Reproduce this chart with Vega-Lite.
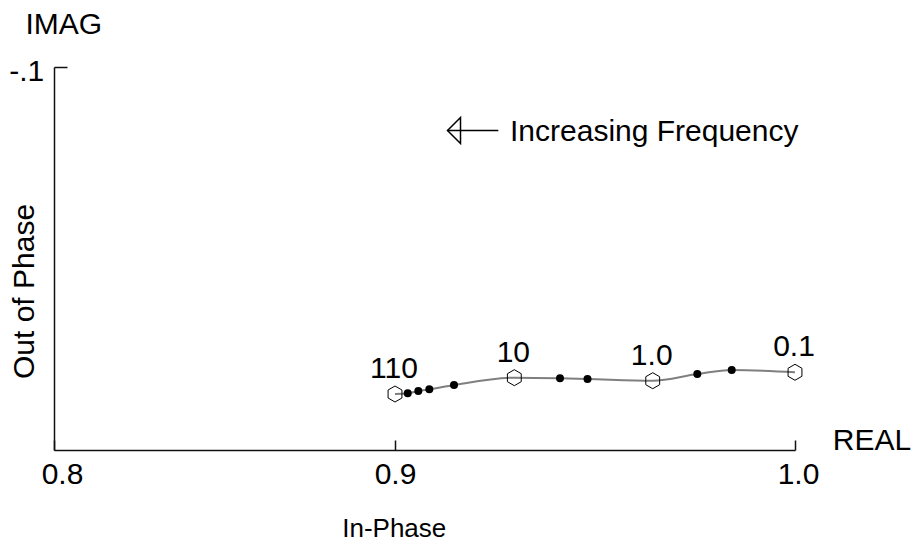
{
  "$schema": "https://vega.github.io/schema/vega-lite/v6.json",
  "autosize": {"type": "none"},
  "padding": {"left": 54, "top": 67, "right": 120, "bottom": 96},
  "width": 741,
  "height": 383,
  "config": {
    "view": {"stroke": null},
    "font": "Liberation Sans",
    "text": {"font": "Liberation Sans", "color": "#000"}
  },
  "datasets": {
    "response": [
      {"re": 0.9, "im": -0.01462, "kind": "hex", "freq": "110"},
      {"re": 0.90318, "im": -0.0148, "kind": "dot", "freq": ""},
      {"re": 0.90583, "im": -0.0154, "kind": "dot", "freq": ""},
      {"re": 0.90858, "im": -0.01585, "kind": "dot", "freq": ""},
      {"re": 0.91475, "im": -0.01697, "kind": "dot", "freq": ""},
      {"re": 0.92983, "im": -0.01888, "kind": "hex", "freq": "10"},
      {"re": 0.94125, "im": -0.01872, "kind": "dot", "freq": ""},
      {"re": 0.94813, "im": -0.01854, "kind": "dot", "freq": ""},
      {"re": 0.96443, "im": -0.01809, "kind": "hex", "freq": "1.0"},
      {"re": 0.97558, "im": -0.01984, "kind": "dot", "freq": ""},
      {"re": 0.98418, "im": -0.02089, "kind": "dot", "freq": ""},
      {"re": 1.0, "im": -0.02029, "kind": "hex", "freq": "0.1"}
    ],
    "arrow": [
      {"re": 0.91308, "re2": 0.92583, "re_head": 0.91475, "im": -0.08342}
    ],
    "caption": [
      {"re": 0.92875, "im": -0.08068, "text": "Increasing Frequency"}
    ],
    "axisNames": [
      {"re": 1.01925, "im": 0.0, "text": "REAL"},
      {"re": 0.80287, "im": -0.10854, "text": "IMAG"}
    ]
  },
  "layer": [
    {
      "data": {"name": "response"},
      "mark": {"type": "line", "interpolate": "monotone", "color": "#7f7f7f", "strokeWidth": 2},
      "encoding": {
        "x": {
          "field": "re",
          "type": "quantitative",
          "scale": {"domain": [0.8, 0.9, 1.0], "range": [0, 341, 741], "zero": false, "nice": false},
          "axis": {
            "values": [0.8, 0.9, 1.0],
            "format": ".1f",
            "grid": false,
            "domainColor": "#111",
            "domainWidth": 1.5,
            "tickColor": "#111",
            "tickWidth": 1.5,
            "tickSize": -10,
            "labelFlush": false,
            "labelOverlap": false,
            "labelFont": "Liberation Sans",
            "labelFontSize": 30,
            "labelColor": "#000",
            "labelBaseline": "alphabetic",
            "labelPadding": 43.3,
            "labelOffset": {"condition": [{"test": "datum.value < 0.85", "value": 8}, {"test": "datum.value > 0.95", "value": 3}], "value": 0},
            "title": "In-Phase",
            "titleFont": "Liberation Sans",
            "titleFontSize": 26,
            "titleFontWeight": "normal",
            "titleColor": "#000",
            "titleX": 287.7,
            "titleY": 86.7,
            "titleAlign": "left",
            "titleBaseline": "alphabetic"
          }
        },
        "y": {
          "field": "im",
          "type": "quantitative",
          "scale": {"domain": [0, -0.1], "zero": false, "nice": false},
          "axis": {
            "values": [-0.1],
            "labelExpr": "'-.1'",
            "grid": false,
            "domainColor": "#111",
            "domainWidth": 1.5,
            "tickColor": "#111",
            "tickWidth": 1.5,
            "tickSize": -13,
            "labelFlush": false,
            "labelFont": "Liberation Sans",
            "labelFontSize": 30,
            "labelColor": "#000",
            "labelBaseline": "alphabetic",
            "labelPadding": 23.2,
            "labelOffset": 13,
            "title": "Out of Phase",
            "titleFont": "Liberation Sans",
            "titleFontSize": 30,
            "titleFontWeight": "normal",
            "titleColor": "#000",
            "titleAngle": 270,
            "titleX": -20.7,
            "titleY": 224,
            "titleAlign": "center",
            "titleBaseline": "alphabetic"
          }
        }
      }
    },
    {
      "data": {"name": "response"},
      "transform": [{"filter": "datum.kind === 'dot'"}],
      "mark": {"type": "point", "shape": "circle", "filled": true, "color": "#000", "size": 64, "opacity": 1},
      "encoding": {
        "x": {"field": "re", "type": "quantitative"},
        "y": {"field": "im", "type": "quantitative"}
      }
    },
    {
      "data": {"name": "response"},
      "transform": [{"filter": "datum.kind === 'hex'"}],
      "mark": {
        "type": "point",
        "shape": "M0,-1L0.866,-0.5L0.866,0.5L0,1L-0.866,0.5L-0.866,-0.5Z",
        "filled": false,
        "stroke": "#000",
        "strokeWidth": 1,
        "size": 256,
        "opacity": 1
      },
      "encoding": {
        "x": {"field": "re", "type": "quantitative"},
        "y": {"field": "im", "type": "quantitative"}
      }
    },
    {
      "data": {"name": "response"},
      "transform": [{"filter": "datum.kind === 'hex'"}],
      "mark": {"type": "text", "fontSize": 30, "align": "center", "baseline": "alphabetic", "dy": -16, "dx": -1, "color": "#000"},
      "encoding": {
        "x": {"field": "re", "type": "quantitative"},
        "y": {"field": "im", "type": "quantitative"},
        "text": {"field": "freq"}
      }
    },
    {
      "data": {"name": "arrow"},
      "mark": {"type": "rule", "color": "#000", "strokeWidth": 1.5},
      "encoding": {
        "x": {"field": "re", "type": "quantitative"},
        "x2": {"field": "re2"},
        "y": {"field": "im", "type": "quantitative"}
      }
    },
    {
      "data": {"name": "arrow"},
      "mark": {
        "type": "point",
        "shape": "M-0.5,0L0.5,-1L0.5,1Z",
        "filled": false,
        "stroke": "#000",
        "strokeWidth": 1.5,
        "size": 676,
        "opacity": 1
      },
      "encoding": {
        "x": {"field": "re_head", "type": "quantitative"},
        "y": {"field": "im", "type": "quantitative"}
      }
    },
    {
      "data": {"name": "caption"},
      "mark": {"type": "text", "fontSize": 30, "align": "left", "baseline": "alphabetic", "color": "#000"},
      "encoding": {
        "x": {"field": "re", "type": "quantitative"},
        "y": {"field": "im", "type": "quantitative"},
        "text": {"field": "text"}
      }
    },
    {
      "data": {"name": "axisNames"},
      "mark": {"type": "text", "fontSize": 30, "align": "center", "baseline": "alphabetic", "color": "#000"},
      "encoding": {
        "x": {"field": "re", "type": "quantitative"},
        "y": {"field": "im", "type": "quantitative"},
        "text": {"field": "text"}
      }
    }
  ]
}
